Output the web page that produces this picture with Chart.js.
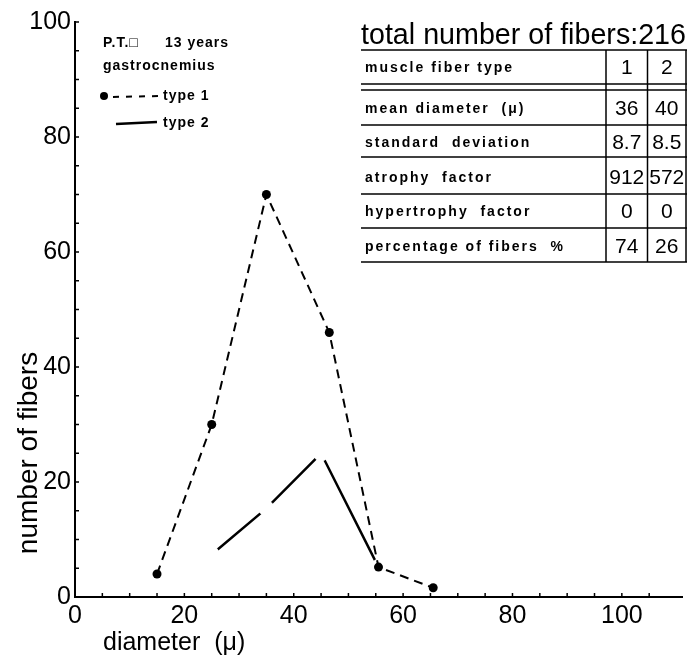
<!DOCTYPE html>
<html>
<head>
<meta charset="utf-8">
<script src="https://cdn.jsdelivr.net/npm/chart.js@4/dist/chart.umd.min.js"></script>
<style>
  html, body { margin: 0; padding: 0; background: #fff; }
  #wrap { width: 690px; height: 657px; }
</style>
</head>
<body>
<div id="wrap"><canvas id="fiberChart" width="690" height="657"></canvas></div>
<script>
// fiber diameter histogram
const type1Diameter = [15, 25, 35, 46.5, 55.5, 65.5];
const type1Count = [4, 30, 70, 46, 5.2, 1.6];
const type2Diameter = [25, 35, 45, 55.5];
const type2Count = [7.4, 15.4, 25, 5.2];

const xTickLabels = [0, 20, 40, 60, 80, 100];
const yTickLabels = [0, 20, 40, 60, 80, 100];

const totalFibers = 216;
const tableRowLabels = [
  "muscle fiber type",
  "mean diameter  (\u03bc)",
  "standard  deviation",
  "atrophy  factor",
  "hypertrophy  factor",
  "percentage of fibers  %"
];
const tableType1 = ["1", "36", "8.7", "912", "0", "74"];
const tableType2 = ["2", "40", "8.5", "572", "0", "26"];

const FONT = '"Liberation Sans", Arial, Helvetica, sans-serif';

function setSpacing(ctx, px) {
  if ('letterSpacing' in ctx) ctx.letterSpacing = px + 'px';
}

// inward tick marks, axis titles, key and the stats table
const annotations = {
  id: 'annotations',
  afterDraw(chart) {
    const ctx = chart.ctx;
    const x = chart.scales.x, y = chart.scales.y;
    const area = chart.chartArea;
    ctx.save();
    ctx.strokeStyle = '#000';
    ctx.fillStyle = '#000';

    // tick marks pointing into the plot
    ctx.lineWidth = 1.5;
    x.ticks.forEach(t => {
      if (t.value === 0) return;
      const px = x.getPixelForValue(t.value);
      ctx.beginPath();
      ctx.moveTo(px, area.bottom);
      ctx.lineTo(px, area.bottom - 4);
      ctx.stroke();
    });
    y.ticks.forEach(t => {
      if (t.value === 0) return;
      const py = y.getPixelForValue(t.value);
      ctx.beginPath();
      ctx.moveTo(area.left, py);
      ctx.lineTo(area.left + 4, py);
      ctx.stroke();
    });

    // axis titles
    ctx.font = '25px ' + FONT;
    ctx.textAlign = 'left';
    ctx.textBaseline = 'alphabetic';
    ctx.fillText('diameter  (\u03bc)', 103, 650);

    ctx.save();
    ctx.translate(37, 453);
    ctx.rotate(-Math.PI / 2);
    ctx.textAlign = 'center';
    ctx.font = '28px ' + FONT;
    ctx.fillText('number of fibers', 0, 0, 214);
    ctx.restore();

    // key, top left
    ctx.font = 'bold 14px ' + FONT;
    setSpacing(ctx, 1);
    ctx.textBaseline = 'middle';
    ctx.fillText('P.T.\u25a1', 103, 43);
    ctx.fillText('13 years', 165, 43);
    ctx.fillText('gastrocnemius', 103, 66);
    ctx.fillText('type 1', 163, 96);
    ctx.fillText('type 2', 163, 123);
    setSpacing(ctx, 0);

    ctx.beginPath();
    ctx.arc(104, 96, 4, 0, Math.PI * 2);
    ctx.fill();
    ctx.lineWidth = 2;
    ctx.setLineDash([6, 7]);
    ctx.beginPath();
    ctx.moveTo(113, 97);
    ctx.lineTo(158, 96);
    ctx.stroke();
    ctx.setLineDash([]);
    ctx.lineWidth = 2.5;
    ctx.beginPath();
    ctx.moveTo(116, 124);
    ctx.lineTo(157, 122);
    ctx.stroke();

    // table
    ctx.font = '29px ' + FONT;
    ctx.textBaseline = 'alphabetic';
    ctx.textAlign = 'left';
    ctx.fillText('total number of fibers:' + totalFibers, 361, 44, 325);

    const rowLines = [50, 84, 90, 125, 157, 194, 228, 262];
    const rowMid = [67, 108, 142, 177, 211, 246];
    const colX = [606, 647.5, 686];
    ctx.lineWidth = 1.5;
    rowLines.forEach(ly => {
      ctx.beginPath();
      ctx.moveTo(361, ly);
      ctx.lineTo(687, ly);
      ctx.stroke();
    });
    colX.forEach(cx => {
      ctx.beginPath();
      ctx.moveTo(cx, 50);
      ctx.lineTo(cx, 262);
      ctx.stroke();
    });

    ctx.textBaseline = 'middle';
    ctx.font = 'bold 14px ' + FONT;
    setSpacing(ctx, 2);
    tableRowLabels.forEach((lab, i) => ctx.fillText(lab, 365, rowMid[i] + 1));
    setSpacing(ctx, 0);

    ctx.font = '21px ' + FONT;
    ctx.textAlign = 'center';
    tableType1.forEach((v, i) => ctx.fillText(v, (colX[0] + colX[1]) / 2, rowMid[i] + 1, 40));
    tableType2.forEach((v, i) => ctx.fillText(v, (colX[1] + colX[2]) / 2, rowMid[i] + 1, 38));

    ctx.restore();
  }
};

function tickSetup(labels) {
  return {
    stepSize: 5,
    autoSkip: false,
    maxRotation: 0,
    color: '#000',
    font: { size: 25, family: FONT },
    callback: v => labels.includes(v) ? String(v) : ''
  };
}

const ctx = document.getElementById('fiberChart').getContext('2d');
new Chart(ctx, {
  type: 'scatter',
  data: {
    datasets: [
      {
        label: 'type 1',
        data: type1Diameter.map((d, i) => ({ x: d, y: type1Count[i] })),
        showLine: true,
        borderColor: '#000',
        borderWidth: 2,
        borderDash: [9, 6],
        pointRadius: 4.5,
        pointBackgroundColor: '#000',
        pointBorderWidth: 0
      },
      {
        label: 'type 2',
        data: type2Diameter.map((d, i) => ({ x: d, y: type2Count[i] })),
        showLine: true,
        borderColor: '#000',
        borderWidth: 2.5,
        // white dots leave the pen gaps at each class value
        pointRadius: 8,
        pointBackgroundColor: '#fff',
        pointBorderColor: 'rgba(0,0,0,0)',
        pointBorderWidth: 0
      }
    ]
  },
  options: {
    responsive: false,
    animation: false,
    devicePixelRatio: 1,
    layout: { padding: { top: 22, right: 2, left: 0, bottom: 0 } },
    plugins: { legend: { display: false }, tooltip: { enabled: false } },
    scales: {
      x: {
        type: 'linear',
        min: 0,
        max: 111,
        afterBuildTicks: s => { s.ticks = s.ticks.filter(t => t.value % 5 === 0); },
        afterFit: s => { s.height = 60; },
        ticks: Object.assign(tickSetup(xTickLabels), { padding: 4 }),
        grid: { display: false, drawTicks: false },
        border: { display: true, color: '#000', width: 2 }
      },
      y: {
        min: 0,
        max: 100,
        afterFit: s => { s.width = 75; },
        ticks: Object.assign(tickSetup(yTickLabels), { padding: 4 }),
        grid: { display: false, drawTicks: false },
        border: { display: true, color: '#000', width: 2 }
      }
    }
  },
  plugins: [annotations]
});
</script>
</body>
</html>
